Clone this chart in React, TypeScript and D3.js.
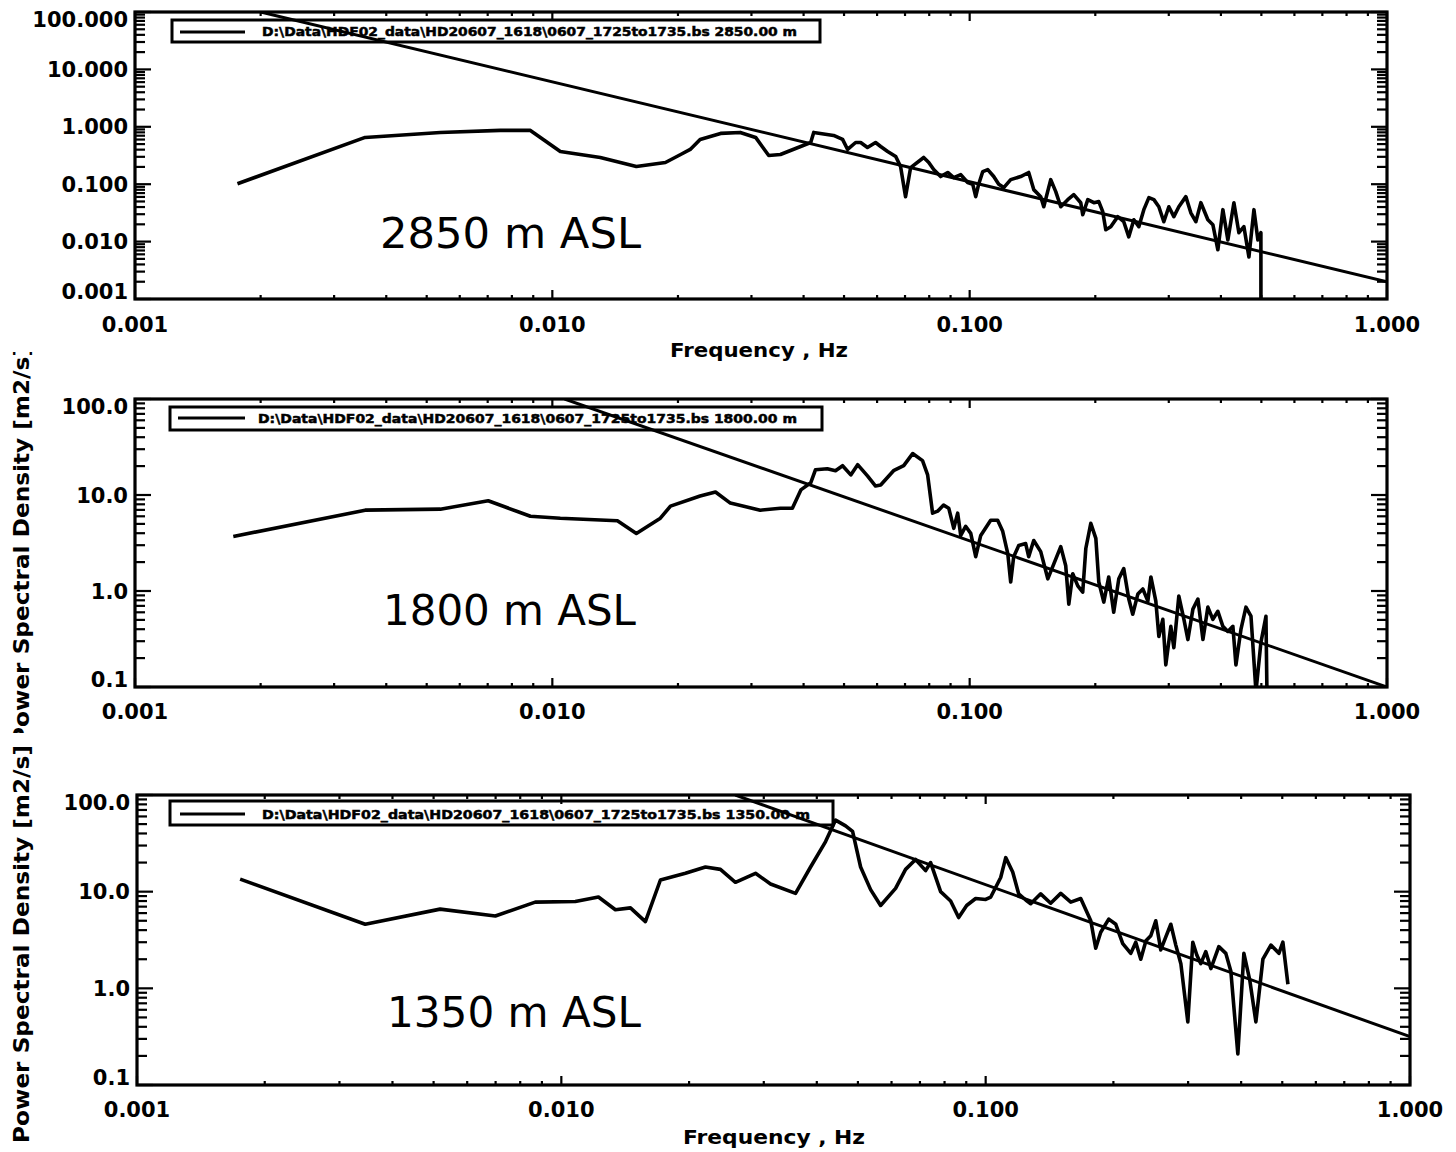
import React from 'react';
import * as d3 from 'd3';

// ---------- tick values / labels ----------
const xTickValues = [0.001, 0.01, 0.1, 1];
const xTickLabels = ['0.001', '0.010', '0.100', '1.000'];
const yTickValues1 = [0.001, 0.01, 0.1, 1, 10, 100];
const yTickLabels1 = ['0.001', '0.010', '0.100', '1.000', '10.000', '100.000'];
const yTickValues23 = [0.1, 1, 10, 100];
const yTickLabels23 = ['0.1', '1.0', '10.0', '100.0'];

// ---------- texts ----------
const legendFile = 'D:\\Data\\HDF02_data\\HD20607_1618\\0607_1725to1735.bs';
const legendHeights = ['2850.00 m', '1800.00 m', '1350.00 m'];
const annotations = ['2850 m ASL', '1800 m ASL', '1350 m ASL'];
const xTitle = 'Frequency , Hz';
const yTitle = 'Power Spectral Density [m2/s]';

// ---------- panel 1 : 2850 m ----------
const freq1 = [0.00176, 0.00356, 0.00539, 0.0075, 0.00886, 0.01045, 0.01303, 0.0159, 0.01866, 0.0203, 0.0214, 0.0226, 0.0253, 0.0282, 0.0307, 0.033, 0.0352, 0.0416, 0.0423, 0.0472, 0.0496, 0.051, 0.0533, 0.0548, 0.0569, 0.0595, 0.0612, 0.0636, 0.0665, 0.0683, 0.0702, 0.0722, 0.0776, 0.0798, 0.082, 0.0852, 0.0886, 0.0916, 0.0952, 0.0989, 0.1017, 0.1034, 0.1051, 0.1075, 0.1105, 0.1142, 0.1174, 0.1207, 0.1254, 0.1325, 0.1385, 0.1424, 0.148, 0.1505, 0.1564, 0.1608, 0.1653, 0.1718, 0.1776, 0.1846, 0.1866, 0.1919, 0.1984, 0.2039, 0.2084, 0.2119, 0.2178, 0.2264, 0.234, 0.2406, 0.2474, 0.2543, 0.2614, 0.2688, 0.2763, 0.284, 0.2919, 0.3001, 0.3085, 0.3171, 0.3296, 0.3388, 0.3483, 0.3581, 0.3722, 0.3826, 0.3933, 0.4043, 0.4156, 0.4297, 0.4417, 0.4541, 0.4668, 0.4799, 0.4905, 0.4987, 0.4988];
const psd1 = [0.102, 0.653, 0.798, 0.865, 0.865, 0.372, 0.292, 0.203, 0.239, 0.329, 0.403, 0.603, 0.767, 0.798, 0.653, 0.316, 0.329, 0.533, 0.798, 0.708, 0.603, 0.403, 0.533, 0.533, 0.437, 0.533, 0.454, 0.372, 0.304, 0.203, 0.0607, 0.195, 0.292, 0.239, 0.18, 0.136, 0.16, 0.13, 0.147, 0.107, 0.1, 0.0607, 0.1, 0.166, 0.18, 0.136, 0.1, 0.0873, 0.12, 0.136, 0.16, 0.0805, 0.0607, 0.0405, 0.12, 0.0743, 0.0405, 0.0538, 0.0658, 0.0476, 0.0294, 0.0538, 0.0476, 0.0497, 0.0332, 0.0161, 0.0182, 0.0272, 0.0222, 0.0121, 0.024, 0.0182, 0.036, 0.0583, 0.0538, 0.0405, 0.0222, 0.0405, 0.0272, 0.0405, 0.0607, 0.0318, 0.0222, 0.0476, 0.024, 0.0197, 0.0072, 0.036, 0.0107, 0.0476, 0.0143, 0.0182, 0.0054, 0.036, 0.0107, 0.0143, 0.0005];
const fitFreq1 = [0.002, 1];
const fitPsd1 = [100, 0.002];

// ---------- panel 2 : 1800 m ----------
const freq2 = [0.00172, 0.00356, 0.00539, 0.00702, 0.00886, 0.01045, 0.01303, 0.01432, 0.0159, 0.01815, 0.01919, 0.0226, 0.0246, 0.0267, 0.0315, 0.0352, 0.0376, 0.0394, 0.0416, 0.0427, 0.0456, 0.0477, 0.0496, 0.0519, 0.0539, 0.0569, 0.0595, 0.0612, 0.0657, 0.0695, 0.073, 0.0771, 0.0793, 0.0815, 0.0838, 0.0866, 0.0891, 0.0916, 0.0936, 0.0952, 0.0978, 0.1006, 0.1034, 0.1063, 0.1123, 0.1167, 0.12, 0.1234, 0.1254, 0.1275, 0.1311, 0.1362, 0.1385, 0.1424, 0.148, 0.1539, 0.1591, 0.1653, 0.1699, 0.1728, 0.1766, 0.1816, 0.1866, 0.1898, 0.1951, 0.2006, 0.2039, 0.2096, 0.2154, 0.2214, 0.2277, 0.234, 0.2406, 0.2459, 0.2529, 0.26, 0.2673, 0.2718, 0.2793, 0.284, 0.2903, 0.2951, 0.3034, 0.3085, 0.3171, 0.3261, 0.3334, 0.3427, 0.3523, 0.3622, 0.3722, 0.3826, 0.3933, 0.4043, 0.4156, 0.4273, 0.4345, 0.4467, 0.4592, 0.4721, 0.4853, 0.4987, 0.5128, 0.5156];
const psd2 = [3.7, 6.95, 7.12, 8.7, 6.01, 5.73, 5.5, 5.4, 3.98, 5.73, 7.66, 9.75, 10.75, 8.24, 6.95, 7.29, 7.29, 11.3, 13.4, 18.3, 18.8, 17.9, 20.2, 16.2, 20.7, 15.8, 12.4, 12.7, 17.9, 20.2, 27.0, 22.8, 16.2, 6.47, 6.79, 7.85, 7.29, 4.5, 6.47, 3.79, 4.72, 3.98, 2.28, 3.79, 5.46, 5.46, 4.18, 2.45, 1.24, 2.28, 2.98, 3.12, 2.28, 3.36, 2.57, 1.34, 1.92, 2.9, 1.83, 0.729, 1.51, 1.13, 0.975, 2.77, 5.07, 3.53, 1.24, 0.766, 1.4, 0.601, 1.34, 1.71, 0.824, 0.573, 0.929, 1.05, 0.785, 1.4, 0.785, 0.336, 0.507, 0.17, 0.428, 0.257, 0.886, 0.507, 0.312, 0.647, 0.824, 0.312, 0.679, 0.507, 0.615, 0.428, 0.379, 0.428, 0.17, 0.398, 0.679, 0.546, 0.09, 0.29, 0.546, 0.09];
const fitFreq2 = [0.0107, 1];
const fitPsd2 = [100, 0.1];

// ---------- panel 3 : 1350 m ----------
const freq3 = [0.00175, 0.00345, 0.00518, 0.00699, 0.00868, 0.01079, 0.01223, 0.01341, 0.01455, 0.01578, 0.01712, 0.01961, 0.02186, 0.02371, 0.02572, 0.02868, 0.03112, 0.03564, 0.03867, 0.04195, 0.04429, 0.04676, 0.04857, 0.05073, 0.05356, 0.05655, 0.06133, 0.06475, 0.06837, 0.07219, 0.07418, 0.07832, 0.08269, 0.08636, 0.0902, 0.09471, 0.1, 0.1028, 0.1085, 0.1115, 0.1158, 0.1196, 0.1243, 0.1277, 0.1348, 0.1423, 0.1503, 0.1587, 0.1675, 0.1722, 0.1769, 0.1817, 0.1867, 0.195, 0.2026, 0.2104, 0.2198, 0.2258, 0.232, 0.2386, 0.245, 0.2517, 0.2586, 0.2658, 0.2731, 0.2806, 0.2884, 0.2995, 0.3077, 0.3146, 0.3214, 0.3301, 0.3394, 0.3544, 0.3681, 0.3783, 0.3929, 0.406, 0.4194, 0.4333, 0.4501, 0.4701, 0.491, 0.5017, 0.5156];
const psd3 = [13.5, 4.6, 6.6, 5.6, 7.8, 7.9, 8.8, 6.5, 6.8, 4.9, 13.2, 15.5, 18.0, 17.0, 12.5, 15.5, 12.0, 9.6, 18.0, 33.0, 55.0, 48.0, 42.0, 18.0, 10.5, 7.2, 10.8, 17.0, 21.5, 16.5, 20.0, 10.0, 8.0, 5.4, 7.2, 8.5, 8.3, 8.8, 14.0, 22.5, 16.0, 9.5, 8.2, 7.5, 9.5, 7.6, 9.6, 7.8, 8.5, 6.5, 5.0, 2.6, 3.8, 5.2, 4.6, 2.9, 2.3, 3.0, 2.0, 3.1, 3.5, 5.0, 2.5, 3.4, 4.6, 2.8, 1.8, 0.45, 3.0, 2.2, 1.8, 2.4, 1.6, 2.7, 2.3, 1.5, 0.21, 2.3, 1.2, 0.45, 2.0, 2.8, 2.3, 3.0, 1.1];
const fitFreq3 = [0.0257, 1];
const fitPsd3 = [100, 0.316];

const FONT = "'DejaVu Sans', Verdana, sans-serif";

function minorTicks(domain: number[]) {
  const out: number[] = [];
  const lo = Math.round(Math.log10(domain[0]));
  const hi = Math.round(Math.log10(domain[1]));
  for (let e = lo; e < hi; e++) {
    for (let k = 2; k <= 9; k++) out.push(k * Math.pow(10, e));
  }
  return out;
}

type PanelCfg = {
  id: string;
  left: number; right: number; top: number; bottom: number;
  yDomain: number[];
  yTicks: number[]; yLabels: string[];
  freq: number[]; psd: number[];
  fitF: number[]; fitP: number[];
  legend: { x0: number; x1: number; y0: number; y1: number; lx0: number; lx1: number; ly: number; tx0: number; tx1: number; ty: number; label: string };
  ann: { x0: number; x1: number; y: number; text: string };
  xLabelY: number;
  xTitleAt?: { x: number; y: number; w: number };
  yTitleAt?: { cx: number; cy: number; len: number; clipTop: number; clipBottom: number };
};

function Panel({ p }: { p: PanelCfg }) {
  const x = d3.scaleLog().domain([0.001, 1]).range([p.left, p.right]);
  const y = d3.scaleLog().domain(p.yDomain).range([p.bottom, p.top]);
  const line = d3.line<[number, number]>().x(d => x(d[0])).y(d => y(d[1]));
  const dataPts = p.freq.map((f, i) => [f, p.psd[i]] as [number, number]);
  const fitPts = p.fitF.map((f, i) => [f, p.fitP[i]] as [number, number]);
  const xMinor = minorTicks([0.001, 1]);
  const yMinor = minorTicks(p.yDomain);
  const xMinLen = 4, xMajLen = 9, yMinLen = 10, yMajLen = 16;
  const clipId = 'clip-' + p.id;
  const tClipId = 'tclip-' + p.id;
  return (
    <g>
      <defs>
        <clipPath id={clipId}>
          <rect x={p.left} y={p.top} width={p.right - p.left} height={p.bottom - p.top} />
        </clipPath>
        {p.yTitleAt && (
          <clipPath id={tClipId}>
            <rect x={0} y={p.yTitleAt.clipTop} width={80} height={p.yTitleAt.clipBottom - p.yTitleAt.clipTop} />
          </clipPath>
        )}
      </defs>
      {/* ticks */}
      <g stroke="#000" strokeWidth={2.2}>
        {xMinor.map((v, i) => (
          <g key={'xm' + i}>
            <line x1={x(v)} x2={x(v)} y1={p.bottom} y2={p.bottom - xMinLen} />
            <line x1={x(v)} x2={x(v)} y1={p.top} y2={p.top + xMinLen} />
          </g>
        ))}
        {xTickValues.map((v, i) => (
          <g key={'xM' + i}>
            <line x1={x(v)} x2={x(v)} y1={p.bottom} y2={p.bottom - xMajLen} />
            <line x1={x(v)} x2={x(v)} y1={p.top} y2={p.top + xMajLen} />
          </g>
        ))}
        {yMinor.map((v, i) => (
          <g key={'ym' + i}>
            <line x1={p.left} x2={p.left + yMinLen} y1={y(v)} y2={y(v)} />
            <line x1={p.right} x2={p.right - yMinLen} y1={y(v)} y2={y(v)} />
          </g>
        ))}
        {p.yTicks.map((v, i) => (
          <g key={'yM' + i}>
            <line x1={p.left} x2={p.left + yMajLen} y1={y(v)} y2={y(v)} />
            <line x1={p.right} x2={p.right - yMajLen} y1={y(v)} y2={y(v)} />
          </g>
        ))}
      </g>
      {/* frame */}
      <rect x={p.left} y={p.top} width={p.right - p.left} height={p.bottom - p.top} fill="none" stroke="#000" strokeWidth={3.2} />
      {/* lines */}
      <g clipPath={`url(#${clipId})`}>
        <path d={line(fitPts) || ''} fill="none" stroke="#000" strokeWidth={3} />
        <path d={line(dataPts) || ''} fill="none" stroke="#000" strokeWidth={3.6} strokeLinejoin="round" />
      </g>
      {/* legend */}
      <rect x={p.legend.x0} y={p.legend.y0} width={p.legend.x1 - p.legend.x0} height={p.legend.y1 - p.legend.y0} fill="none" stroke="#000" strokeWidth={3} />
      <line x1={p.legend.lx0} x2={p.legend.lx1} y1={p.legend.ly} y2={p.legend.ly} stroke="#000" strokeWidth={3} />
      <text x={p.legend.tx0} y={p.legend.ty} fontFamily={FONT} fontWeight="bold" fontSize={12.5} stroke="#000" strokeWidth={0.5} textLength={p.legend.tx1 - p.legend.tx0} lengthAdjust="spacingAndGlyphs">
        {legendFile + '   ' + p.legend.label}
      </text>
      {/* y tick labels */}
      {p.yTicks.map((v, i) => {
        let yy = y(v);
        if (i === 0) yy -= 8;
        if (i === p.yTicks.length - 1) yy += 7;
        return (
          <text key={'yl' + i} x={p.left - 7} y={yy} dy="0.36em" textAnchor="end" fontFamily={FONT} fontWeight="bold" fontSize={21}>
            {p.yLabels[i]}
          </text>
        );
      })}
      {/* x tick labels */}
      {xTickValues.map((v, i) => (
        <text key={'xl' + i} x={x(v)} y={p.xLabelY} textAnchor="middle" fontFamily={FONT} fontWeight="bold" fontSize={21}>
          {xTickLabels[i]}
        </text>
      ))}
      {p.xTitleAt && (
        <text x={p.xTitleAt.x} y={p.xTitleAt.y} textAnchor="middle" fontFamily={FONT} fontWeight="bold" fontSize={20} textLength={p.xTitleAt.w} lengthAdjust="spacingAndGlyphs">
          {xTitle}
        </text>
      )}
      {p.yTitleAt && (
        <g clipPath={`url(#${tClipId})`}>
          <text transform={`translate(${p.yTitleAt.cx},${p.yTitleAt.cy}) rotate(-90)`} textAnchor="middle" dy="0.36em" fontFamily={FONT} fontWeight="bold" fontSize={21} textLength={p.yTitleAt.len} lengthAdjust="spacingAndGlyphs">
            {yTitle}
          </text>
        </g>
      )}
      {/* annotation */}
      <text x={p.ann.x0} y={p.ann.y} fontFamily={FONT} fontSize={42} textLength={p.ann.x1 - p.ann.x0} lengthAdjust="spacingAndGlyphs">
        {p.ann.text}
      </text>
    </g>
  );
}

const panels: PanelCfg[] = [
  {
    id: 'p1', left: 135, right: 1387, top: 12, bottom: 299,
    yDomain: [0.001, 100], yTicks: yTickValues1, yLabels: yTickLabels1,
    freq: freq1, psd: psd1, fitF: fitFreq1, fitP: fitPsd1,
    legend: { x0: 172, x1: 820, y0: 20, y1: 42, lx0: 180, lx1: 245, ly: 32, tx0: 262, tx1: 797, ty: 36, label: legendHeights[0] },
    ann: { x0: 380, x1: 641, y: 248, text: annotations[0] },
    xLabelY: 332,
    xTitleAt: { x: 759, y: 357, w: 178 },
  },
  {
    id: 'p2', left: 135, right: 1387, top: 399, bottom: 687,
    yDomain: [0.1, 100], yTicks: yTickValues23, yLabels: yTickLabels23,
    freq: freq2, psd: psd2, fitF: fitFreq2, fitP: fitPsd2,
    legend: { x0: 170, x1: 822, y0: 407, y1: 430, lx0: 178, lx1: 245, ly: 418, tx0: 258, tx1: 797, ty: 423, label: legendHeights[1] },
    ann: { x0: 383, x1: 636, y: 625, text: annotations[1] },
    xLabelY: 719,
    yTitleAt: { cx: 21, cy: 545, len: 398, clipTop: 352, clipBottom: 733 },
  },
  {
    id: 'p3', left: 137, right: 1410, top: 795, bottom: 1085,
    yDomain: [0.1, 100], yTicks: yTickValues23, yLabels: yTickLabels23,
    freq: freq3, psd: psd3, fitF: fitFreq3, fitP: fitPsd3,
    legend: { x0: 170, x1: 833, y0: 801, y1: 825, lx0: 180, lx1: 245, ly: 814, tx0: 262, tx1: 810, ty: 819, label: legendHeights[2] },
    ann: { x0: 387, x1: 641, y: 1027, text: annotations[2] },
    xLabelY: 1117,
    xTitleAt: { x: 774, y: 1144, w: 182 },
    yTitleAt: { cx: 21, cy: 944, len: 398, clipTop: 735, clipBottom: 1152 },
  },
];

export default function App() {
  return (
    <svg width={1456} height={1152} style={{ position: 'absolute', left: 0, top: 0, background: '#fff' }}>
      <rect x={0} y={0} width={1456} height={1152} fill="#fff" />
      {panels.map(p => <Panel key={p.id} p={p} />)}
    </svg>
  );
}
